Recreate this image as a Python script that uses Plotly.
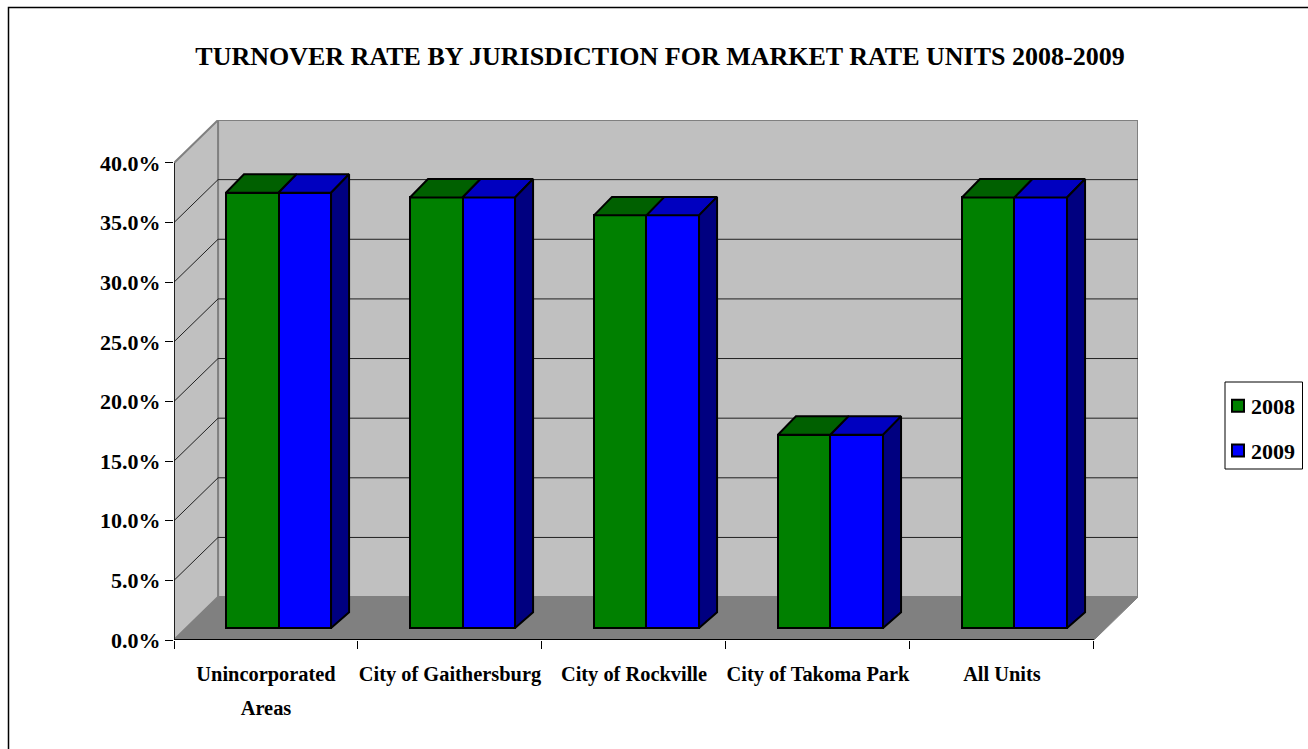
import plotly.graph_objects as go

title = "TURNOVER RATE BY JURISDICTION FOR MARKET RATE UNITS 2008-2009"
categories = ["Unincorporated<br>Areas", "City of Gaithersburg", "City of Rockville", "City of Takoma Park", "All Units"]
series_2008 = [36.5, 36.1, 34.6, 16.2, 36.1]
series_2009 = [36.5, 36.1, 34.6, 16.2, 36.1]
y_ticks = [0, 5, 10, 15, 20, 25, 30, 35, 40]
y_labels = ["0.0%", "5.0%", "10.0%", "15.0%", "20.0%", "25.0%", "30.0%", "35.0%", "40.0%"]

FONT = "Liberation Serif"
# pixel frame of the axes
PX_L, PX_R, PX_T, PX_B = 174, 1138, 120, 640
UX = 183.8          # px per category
UY = 11.95          # px per percent
DX = 44 / UX        # wall depth in x units
DY = 43 / UY        # wall depth in y units
XMAX = 5 + DX
YMAX = 40 + DY
BW = 52.5 / UX      # bar width
F_X = 12.5 / UX     # bar front plane offset
F_Y = 12 / UY
D_X = 18 / UX       # bar depth
D_Y = 18.5 / UY

def px_x(p):
    return (p - PX_L) / (PX_R - PX_L)
def px_y(p):
    return (PX_B - p) / (PX_B - PX_T)

fig = go.Figure()
centers = [i + 0.5 + F_X for i in range(len(categories))]

series = [("2008", series_2008, -BW / 2, "#008000", "#006000"),
          ("2009", series_2009, BW / 2, "#0000FF", "#0000C0")]
for name, vals, off, col, top in series:
    fig.add_trace(go.Bar(
        name=f"<b>{name}</b>", x=[c + off for c in centers], y=vals, base=[F_Y] * len(vals), width=BW,
        marker=dict(color=col, line=dict(color="black", width=2)),
        legendgroup=name, hoverinfo="skip"))

# top faces and right side faces follow the bar values
for name, vals, off, col, top in series:
    for c, v in zip(centers, vals):
        x0, x1 = c + off - BW / 2, c + off + BW / 2
        y1 = F_Y + v
        fig.add_trace(go.Scatter(
            x=[x0, x1, x1 + D_X, x0 + D_X, x0], y=[y1, y1, y1 + D_Y, y1 + D_Y, y1],
            mode="lines", fill="toself", fillcolor=top,
            line=dict(color="black", width=2), showlegend=False, hoverinfo="skip"))
for c, v in zip(centers, series_2009):
    x1 = c + BW
    y1 = F_Y + v
    fig.add_trace(go.Scatter(
        x=[x1, x1 + D_X, x1 + D_X, x1, x1], y=[F_Y, F_Y + D_Y * 0.85, y1 + D_Y, y1, F_Y],
        mode="lines", fill="toself", fillcolor="#000080",
        line=dict(color="black", width=2), showlegend=False, hoverinfo="skip"))

shapes = [
    # back wall
    dict(type="rect", x0=DX, x1=XMAX, y0=DY, y1=YMAX, fillcolor="#C0C0C0",
         line=dict(color="#808080", width=2), layer="below"),
    # side wall
    dict(type="path", path=f"M 0 0 L {DX} {DY} L {DX} {YMAX} L 0 40 Z", fillcolor="#C0C0C0",
         line=dict(color="#808080", width=2), layer="below"),
    # floor
    dict(type="path", path=f"M 0 0 L {DX} {DY} L {XMAX} {DY} L 5 0 Z", fillcolor="#808080",
         line=dict(color="#808080", width=1), layer="below"),
]
for t in y_ticks[1:-1]:
    shapes.append(dict(type="line", x0=0, y0=t, x1=DX, y1=t + DY, line=dict(color="#202020", width=1), layer="below"))
    shapes.append(dict(type="line", x0=DX, y0=t + DY, x1=XMAX, y1=t + DY, line=dict(color="#202020", width=1), layer="below"))
# axis lines
shapes.append(dict(type="line", x0=0, y0=0, x1=5, y1=0, line=dict(color="black", width=2)))
shapes.append(dict(type="line", x0=0, y0=0, x1=0, y1=40, line=dict(color="black", width=1.5)))
# chart frame (right and bottom run off the page)
shapes.append(dict(type="rect", xref="paper", yref="paper", x0=px_x(8.5), x1=px_x(1330), y0=px_y(770), y1=px_y(7.5),
                   line=dict(color="black", width=1.5), layer="below"))
# legend box
shapes.append(dict(type="rect", xref="paper", yref="paper", x0=px_x(1225), x1=px_x(1302.5), y0=px_y(469), y1=px_y(382),
                   line=dict(color="black", width=1), fillcolor="white", layer="below"))

def tick_text(c):
    return "<br>".join(f"<span style='font-size:20.4px'><b>{part}</b></span>" for part in c.split("<br>"))

fig.update_layout(
    width=1308, height=749, autosize=False,
    margin=dict(l=PX_L, r=1308 - PX_R, t=PX_T, b=749 - PX_B, pad=0),
    paper_bgcolor="white", plot_bgcolor="rgba(0,0,0,0)",
    barmode="overlay", bargap=0,
    font=dict(family=FONT, size=20, color="black"),
    title=dict(text=f"<b>{title}</b>", x=660 / 1308, xanchor="center", y=1 - 56 / 749, yanchor="middle",
               font=dict(family=FONT, size=26, color="black")),
    shapes=shapes,
    showlegend=True,
    legend=dict(xref="container", yref="container", x=1218 / 1308, xanchor="left",
                y=1 - 385 / 749, yanchor="top",
                bgcolor="rgba(0,0,0,0)", borderwidth=0,
                tracegroupgap=13, itemwidth=30, traceorder="grouped",
                font=dict(family=FONT, size=22, color="black"), itemclick=False, itemdoubleclick=False),
    xaxis=dict(range=[0, XMAX], showgrid=False, zeroline=False, showline=False,
               tickmode="array", tickvals=[i + 0.5 for i in range(5)],
               ticktext=[tick_text(c) for c in categories],
               ticks="", tickangle=0, ticklabelstandoff=14,
               tickfont=dict(family=FONT, size=26, color="black"),
               minor=dict(tickmode="array", tickvals=[0, 1, 2, 3, 4, 5], ticks="outside", ticklen=8, tickcolor="black", tickwidth=1, showgrid=False)),
    yaxis=dict(range=[0, YMAX], showgrid=False, zeroline=False, showline=False,
               tickmode="array", tickvals=y_ticks, ticktext=[f"<b>{l}</b>" for l in y_labels],
               ticks="outside", ticklen=8, tickcolor="black", tickwidth=1,
               tickfont=dict(family=FONT, size=22, color="black")),
)

fig.write_html("out.html", config={"displayModeBar": False},
               post_script="document.body.style.margin='0';document.documentElement.style.overflow='hidden';"
                           "document.querySelectorAll('.legendtext').forEach(function(t){t.setAttribute('x', Number(t.getAttribute('x')) - 7);});")
